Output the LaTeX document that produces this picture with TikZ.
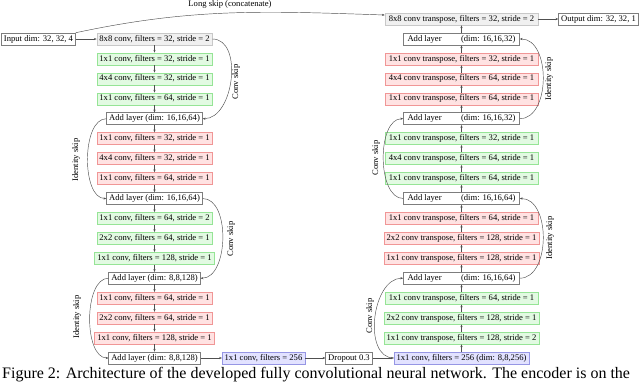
\documentclass[tikz,border=0pt]{standalone}
\usepackage{fontspec}
\setmainfont{Liberation Serif}
\usetikzlibrary{arrows.meta}
\definecolor{cgf}{RGB}{240,240,240}
\definecolor{cgd}{RGB}{200,200,200}
\definecolor{cgrf}{RGB}{226,250,226}
\definecolor{cgrd}{RGB}{150,228,150}
\definecolor{crf}{RGB}{255,226,226}
\definecolor{crd}{RGB}{240,150,150}
\definecolor{cbf}{RGB}{226,226,255}
\definecolor{cbd}{RGB}{150,150,228}
\definecolor{cwd}{RGB}{125,125,125}
\definecolor{cline}{RGB}{80,80,80}
\begin{document}
\begin{tikzpicture}[x=1pt,y=-1pt,
  font=\fontsize{8.6}{10}\selectfont,
  >={Stealth[length=2.8pt,width=2.2pt]},
  box/.style={draw, line width=0.55pt, inner xsep=2.5pt, inner ysep=0pt,
    minimum height=12pt, text height=6.2pt, text depth=1.9pt},
  ebox/.style={box, minimum width=115pt},
  dbox/.style={box, minimum width=153pt},
  graybox/.style={fill=cgf, draw=cgd},
  greenbox/.style={fill=cgrf, draw=cgrd},
  redbox/.style={fill=crf, draw=crd},
  bluebox/.style={fill=cbf, draw=cbd},
  wbox/.style={box, fill=white, draw=cwd},
  dadd/.style={wbox, inner xsep=4pt},
  conn/.style={draw=cline, line width=0.45pt, ->},
  lbl/.style={rotate=90, inner sep=0pt}]
\useasboundingbox (0,0) rectangle (640,386);
\clip (0,0) rectangle (640,386);

% encoder
\node[wbox] (inp) at (38.5,39.0) {Input dim: 32, 32, 4};
\node[ebox,graybox] (e1) at (154.5,39.0) {8x8 conv, filters = 32, stride = 2};
\node[ebox,greenbox] (e2) at (154.5,58.9) {1x1 conv, filters = 32, stride = 1};
\node[ebox,greenbox] (e3) at (154.5,78.8) {4x4 conv, filters = 32, stride = 1};
\node[ebox,greenbox] (e4) at (154.5,98.8) {1x1 conv, filters = 64, stride = 1};
\node[wbox] (e5) at (154.5,118.7) {Add layer (dim: 16,16,64)};
\node[ebox,redbox] (e6) at (154.5,138.6) {1x1 conv, filters = 32, stride = 1};
\node[ebox,redbox] (e7) at (154.5,158.6) {4x4 conv, filters = 32, stride = 1};
\node[ebox,redbox] (e8) at (154.5,178.5) {1x1 conv, filters = 64, stride = 1};
\node[wbox] (e9) at (154.5,198.5) {Add layer (dim: 16,16,64)};
\node[ebox,greenbox] (e10) at (154.5,218.4) {1x1 conv, filters = 64, stride = 2};
\node[ebox,greenbox] (e11) at (154.5,238.3) {2x2 conv, filters = 64, stride = 1};
\node[ebox,greenbox] (e12) at (154.5,258.3) {1x1 conv, filters = 128, stride = 1};
\node[wbox] (e13) at (154.5,278.2) {Add layer (dim: 8,8,128)};
\node[ebox,redbox] (e14) at (154.5,298.2) {1x1 conv, filters = 64, stride = 1};
\node[ebox,redbox] (e15) at (154.5,318.1) {2x2 conv, filters = 64, stride = 1};
\node[ebox,redbox] (e16) at (154.5,338.0) {1x1 conv, filters = 128, stride = 1};
\node[wbox] (e17) at (154.5,358.0) {Add layer (dim: 8,8,128)};
\node[box,bluebox] (eb) at (263.5,358.0) {1x1 conv, filters = 256};
\node[wbox] (drop) at (349,358.0) {Dropout 0.3};

% decoder
\node[dbox,graybox] (d0) at (461.5,19.0) {8x8 conv transpose, filters = 32, stride = 2};
\node[wbox] (out) at (598.5,19.0) {Output dim: 32, 32, 1};
\node[dadd] (d1) at (461.5,39.0) {\makebox[108pt]{Add layer\hfill(dim: 16,16,32)}};
\node[dbox,redbox] (d2) at (461.5,58.9) {1x1 conv transpose, filters = 32, stride = 1};
\node[dbox,redbox] (d3) at (461.5,78.8) {4x4 conv transpose, filters = 64, stride = 1};
\node[dbox,redbox] (d4) at (461.5,98.8) {1x1 conv transpose, filters = 64, stride = 1};
\node[dadd] (d5) at (461.5,118.7) {\makebox[108pt]{Add layer\hfill(dim: 16,16,32)}};
\node[dbox,greenbox] (d6) at (461.5,138.6) {1x1 conv transpose, filters = 32, stride = 1};
\node[dbox,greenbox] (d7) at (461.5,158.6) {4x4 conv transpose, filters = 64, stride = 1};
\node[dbox,greenbox] (d8) at (461.5,178.5) {1x1 conv transpose, filters = 64, stride = 1};
\node[dadd] (d9) at (461.5,198.5) {\makebox[108pt]{Add layer\hfill(dim: 16,16,64)}};
\node[dbox,redbox] (d10) at (461.5,218.4) {1x1 conv transpose, filters = 64, stride = 1};
\node[dbox,redbox] (d11) at (461.5,238.3) {2x2 conv transpose, filters = 128, stride = 1};
\node[dbox,redbox] (d12) at (461.5,258.3) {1x1 conv transpose, filters = 128, stride = 1};
\node[dadd] (d13) at (461.5,278.2) {\makebox[108pt]{Add layer\hfill(dim: 16,16,64)}};
\node[dbox,greenbox] (d14) at (461.5,298.2) {1x1 conv transpose, filters = 64, stride = 1};
\node[dbox,greenbox] (d15) at (461.5,318.1) {2x2 conv transpose, filters = 128, stride = 1};
\node[dbox,greenbox] (d16) at (461.5,338.0) {1x1 conv transpose, filters = 128, stride = 2};
\node[box,bluebox] (d17) at (461.5,358.0) {1x1 conv, filters = 256 (dim: 8,8,256)};

% straight connectors
\draw[conn] (inp) -- (e1);
\foreach \a/\b in {1/2,2/3,3/4,4/5,5/6,6/7,7/8,8/9,9/10,10/11,11/12,12/13,13/14,14/15,15/16,16/17}
  \draw[conn] (e\a) -- (e\b);
\draw[conn] (e17) -- (eb);
\draw[conn] (eb) -- (drop);
\draw[conn] (drop) -- (d17);
\foreach \a/\b in {1/0,2/1,3/2,4/3,5/4,6/5,7/6,8/7,9/8,10/9,11/10,12/11,13/12,14/13,15/14,16/15,17/16}
  \draw[conn] (d\a) -- (d\b);
\draw[conn] (d0) -- (out);

% skips
\draw[conn] (e1.east) to[out=0,in=0] (e5.east);
\draw[conn] (e5.west) to[out=180,in=180,looseness=0.8] (e9.west);
\draw[conn] (e9.east) to[out=0,in=0,looseness=0.9] (e13.east);
\draw[conn] (e13.west) to[out=180,in=180,looseness=0.8] (e17.west);
\draw[conn] (d5.east) to[out=0,in=0] (d1.east);
\draw[conn] (d9.west) to[out=180,in=180,looseness=0.85] (d5.west);
\draw[conn] (d13.east) to[out=0,in=0] (d9.east);
\draw[conn] (d17.west) to[out=180,in=180] (d13.west);
\draw[conn] (inp.north east) .. controls +(117,-25) and +(-120,-4) .. ([yshift=4pt]d0.west);

% labels
\node (lt) at (230,4) {Long skip (concatenate)};
\node[lbl] (l1) at (236,82) {Conv skip};
\node[lbl] (l2) at (76,160) {Identity skip};
\node[lbl] (l3) at (231,239) {Conv skip};
\node[lbl] (l4) at (77,317) {Identity skip};
\node[lbl] (l5) at (549,79) {Identity skip};
\node[lbl] (l6) at (376,158) {Conv skip};
\node[lbl] (l7) at (550,238) {Identity skip};
\node[lbl] (l8) at (370,316) {Conv skip};

% caption
\node[anchor=base west, inner sep=0pt, font=\fontsize{16}{18}\selectfont] (cap) at (2,378)
  {Figure 2: Architecture of the developed fully convolutional neural network. The encoder is on the};
\end{tikzpicture}
\end{document}
